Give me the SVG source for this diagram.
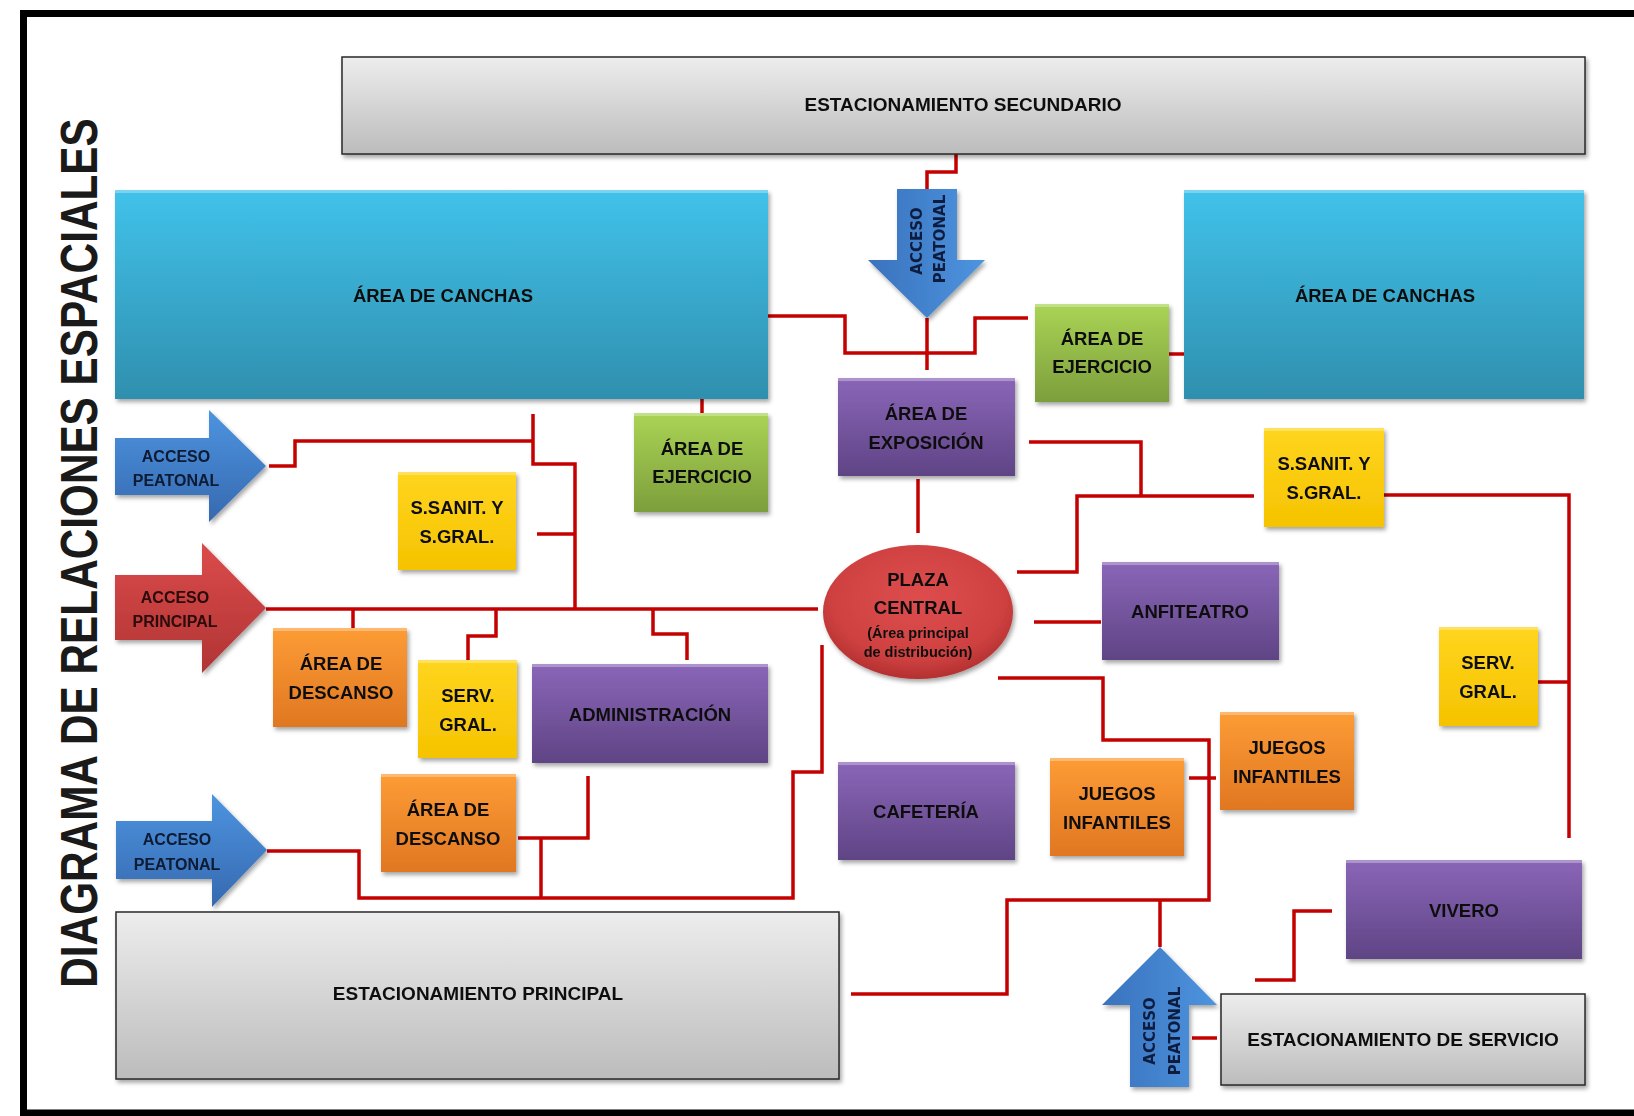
<svg xmlns="http://www.w3.org/2000/svg" width="1634" height="1116" viewBox="0 0 1634 1116">
<defs>
<linearGradient id="gGray" x1="0" y1="0" x2="0" y2="1"><stop offset="0" stop-color="#ededed"/><stop offset="1" stop-color="#bcbcbc"/></linearGradient>
<linearGradient id="gCyan" x1="0" y1="0" x2="0" y2="1"><stop offset="0" stop-color="#41c2ea"/><stop offset="1" stop-color="#2f8fae"/></linearGradient>
<linearGradient id="gGreen" x1="0" y1="0" x2="0" y2="1"><stop offset="0" stop-color="#aad455"/><stop offset="1" stop-color="#7d9e3c"/></linearGradient>
<linearGradient id="gPurple" x1="0" y1="0" x2="0" y2="1"><stop offset="0" stop-color="#8a66b8"/><stop offset="1" stop-color="#5f4485"/></linearGradient>
<linearGradient id="gYellow" x1="0" y1="0" x2="0" y2="1"><stop offset="0" stop-color="#ffd51e"/><stop offset="1" stop-color="#f5c300"/></linearGradient>
<linearGradient id="gOrange" x1="0" y1="0" x2="0" y2="1"><stop offset="0" stop-color="#fd9c35"/><stop offset="1" stop-color="#e07722"/></linearGradient>
<linearGradient id="gBlue" x1="0" y1="0" x2="0" y2="1"><stop offset="0" stop-color="#4d94df"/><stop offset="1" stop-color="#3669b0"/></linearGradient>
<linearGradient id="gBlueV" x1="0" y1="0" x2="1" y2="0"><stop offset="0" stop-color="#3a72bd"/><stop offset="1" stop-color="#4d94df"/></linearGradient>
<linearGradient id="gRedA" x1="0" y1="0" x2="0" y2="1"><stop offset="0" stop-color="#dc4b4b"/><stop offset="1" stop-color="#b03434"/></linearGradient>
<radialGradient id="gPlaza" cx="0.5" cy="0.4" r="0.6"><stop offset="0" stop-color="#de4d4d"/><stop offset="0.75" stop-color="#cf4141"/><stop offset="1" stop-color="#b43030"/></radialGradient>
<filter id="sh" x="-10%" y="-10%" width="125%" height="130%"><feDropShadow dx="2" dy="3" stdDeviation="2" flood-color="#000" flood-opacity="0.35"/></filter>
</defs>
<style>
.lbl{font-family:"Liberation Sans",Arial,sans-serif;font-weight:bold;font-size:18.5px;fill:#111;text-anchor:middle}
.big{font-size:19px}
.arr{font-family:"Liberation Sans",Arial,sans-serif;font-weight:bold;font-size:16px;text-anchor:middle}
.vt{font-family:"DejaVu Sans",Verdana,sans-serif;font-weight:bold;font-size:15px;fill:#0f1f40;text-anchor:middle}
.sm{font-size:14.5px}
.gray{fill:url(#gGray);stroke:#2a2a2a;stroke-width:1.5}
.cyan{fill:url(#gCyan)}
.green{fill:url(#gGreen)}
.purple{fill:url(#gPurple)}
.yellow{fill:url(#gYellow)}
.orange{fill:url(#gOrange)}
.hl{fill:#fff;fill-opacity:0.3}
.node{filter:url(#sh)}
.conn{fill:none;stroke:#c40000;stroke-width:3.5;stroke-linejoin:miter;stroke-linecap:butt}
.frame{fill:none;stroke:#000;stroke-width:7}
.title{font-family:"Liberation Sans",Arial,sans-serif;font-weight:bold;font-size:42.3px;fill:#1a1a1a;text-anchor:middle}
</style>
<rect width="1634" height="1116" fill="#fff"/>
<path class="frame" d="M1634 13.5 H23.5 V1113 H1634"/>
<text class="title" transform="translate(97,553) rotate(-90) scale(1,1.22)">DIAGRAMA DE RELACIONES ESPACIALES</text>

<g id="connectors">
<polyline class="conn" points="956,154 956,172 927,172 927,189"/>
<polyline class="conn" points="927,318 927,370"/>
<polyline class="conn" points="768,316 845,316 845,353 975,353 975,318 1028,318"/>
<polyline class="conn" points="1169,354 1184,354"/>
<polyline class="conn" points="1029,442 1141,442 1141,496"/>
<polyline class="conn" points="1254,496 1077,496 1077,572 1017,572"/>
<polyline class="conn" points="918,479 918,533"/>
<polyline class="conn" points="1384,495 1569,495 1569,838"/>
<polyline class="conn" points="1538,682 1569,682"/>
<polyline class="conn" points="1034,622 1101,622"/>
<polyline class="conn" points="998,678 1103,678 1103,740 1209,740 1209,900 1007,900 1007,994 851,994"/>
<polyline class="conn" points="1160,900 1160,947"/>
<polyline class="conn" points="1189,778 1216,778"/>
<polyline class="conn" points="1255,980 1294,980 1294,911 1332,911"/>
<polyline class="conn" points="1192,1038 1217,1038"/>
<polyline class="conn" points="269,466 295,466 295,441 533,441"/>
<polyline class="conn" points="533,414 533,464 575,464 575,609"/>
<polyline class="conn" points="537,534 575,534"/>
<polyline class="conn" points="266,609 818,609"/>
<polyline class="conn" points="353,609 353,628"/>
<polyline class="conn" points="496,609 496,636 468,636 468,660"/>
<polyline class="conn" points="653,609 653,634 687,634 687,660"/>
<polyline class="conn" points="588,776 588,838 518,838"/>
<polyline class="conn" points="541,838 541,898"/>
<polyline class="conn" points="267,851 359,851 359,898 793,898 793,772 822,772 822,645"/>
<polyline class="conn" points="702,399 702,413"/>
</g>

<g id="est-secundario" class="node"><rect class="gray" x="342" y="57" width="1243" height="97"/><text class="lbl big" x="963" y="111">ESTACIONAMIENTO SECUNDARIO</text></g>

<g id="canchas-izq" class="node"><rect class="cyan" x="115" y="190" width="653" height="209"/><rect class="hl" x="115" y="190" width="653" height="3"/><text class="lbl" x="443" y="302">ÁREA DE CANCHAS</text></g>

<g id="canchas-der" class="node"><rect class="cyan" x="1184" y="190" width="400" height="209"/><rect class="hl" x="1184" y="190" width="400" height="3"/><text class="lbl" x="1385" y="302">ÁREA DE CANCHAS</text></g>

<g id="acceso-peatonal-sup" class="node"><polygon points="897,189 957,189 957,260 985,260 927,318 868,260 897,260" fill="url(#gBlueV)"/>
<text class="vt" transform="translate(922,241) rotate(-90)">ACCESO</text><text class="vt" transform="translate(945,239) rotate(-90)">PEATONAL</text></g>

<g id="ejercicio-der" class="node"><rect class="green" x="1035" y="304" width="134" height="98"/><rect class="hl" x="1035" y="304" width="134" height="3"/><text class="lbl" x="1102" y="345">ÁREA DE</text><text class="lbl" x="1102" y="373">EJERCICIO</text></g>

<g id="exposicion" class="node"><rect class="purple" x="838" y="378" width="177" height="98"/><rect class="hl" x="838" y="378" width="177" height="3"/><text class="lbl" x="926" y="420">ÁREA DE</text><text class="lbl" x="926" y="449">EXPOSICIÓN</text></g>

<g id="ejercicio-izq" class="node"><rect class="green" x="634" y="413" width="134" height="99"/><rect class="hl" x="634" y="413" width="134" height="3"/><text class="lbl" x="702" y="455">ÁREA DE</text><text class="lbl" x="702" y="483">EJERCICIO</text></g>

<g id="acceso-peatonal-1" class="node"><polygon points="115,438 209,438 209,410 266,466 209,522 209,495 115,495" fill="url(#gBlue)"/>
<text class="arr" x="176" y="462" fill="#0d1a33">ACCESO</text><text class="arr" x="176" y="486" fill="#0d1a33">PEATONAL</text></g>

<g id="ssanit-izq" class="node"><rect class="yellow" x="398" y="472" width="118" height="98"/><rect class="hl" x="398" y="472" width="118" height="3"/><text class="lbl" x="457" y="514">S.SANIT. Y</text><text class="lbl" x="457" y="543">S.GRAL.</text></g>

<g id="acceso-principal" class="node"><polygon points="115,575 202,575 202,543 266,608 202,673 202,640 115,640" fill="url(#gRedA)"/>
<text class="arr" x="175" y="603" fill="#2a0808">ACCESO</text><text class="arr" x="175" y="627" fill="#2a0808">PRINCIPAL</text></g>

<g id="descanso-1" class="node"><rect class="orange" x="273" y="628" width="134" height="99"/><rect class="hl" x="273" y="628" width="134" height="3"/><text class="lbl" x="341" y="670">ÁREA DE</text><text class="lbl" x="341" y="699">DESCANSO</text></g>

<g id="servgral-izq" class="node"><rect class="yellow" x="418" y="660" width="99" height="98"/><rect class="hl" x="418" y="660" width="99" height="3"/><text class="lbl" x="468" y="702">SERV.</text><text class="lbl" x="468" y="731">GRAL.</text></g>

<g id="administracion" class="node"><rect class="purple" x="532" y="664" width="236" height="99"/><rect class="hl" x="532" y="664" width="236" height="3"/><text class="lbl" x="650" y="721">ADMINISTRACIÓN</text></g>

<g id="descanso-2" class="node"><rect class="orange" x="381" y="774" width="135" height="98"/><rect class="hl" x="381" y="774" width="135" height="3"/><text class="lbl" x="448" y="816">ÁREA DE</text><text class="lbl" x="448" y="845">DESCANSO</text></g>

<g id="acceso-peatonal-2" class="node"><polygon points="116,821 212,821 212,794 267,850 212,907 212,879 116,879" fill="url(#gBlue)"/>
<text class="arr" x="177" y="845" fill="#0d1a33">ACCESO</text><text class="arr" x="177" y="870" fill="#0d1a33">PEATONAL</text></g>

<g id="est-principal" class="node"><rect class="gray" x="116" y="912" width="723" height="167"/><text class="lbl big" x="478" y="1000">ESTACIONAMIENTO PRINCIPAL</text></g>

<g id="plaza-central" class="node"><ellipse cx="918" cy="612" rx="95" ry="67" fill="url(#gPlaza)"/>
<text class="lbl" x="918" y="586">PLAZA</text><text class="lbl" x="918" y="614">CENTRAL</text><text class="lbl sm" x="918" y="638">(Área principal</text><text class="lbl sm" x="918" y="657">de distribución)</text></g>

<g id="ssanit-der" class="node"><rect class="yellow" x="1264" y="428" width="120" height="99"/><rect class="hl" x="1264" y="428" width="120" height="3"/><text class="lbl" x="1324" y="470">S.SANIT. Y</text><text class="lbl" x="1324" y="499">S.GRAL.</text></g>

<g id="anfiteatro" class="node"><rect class="purple" x="1102" y="562" width="177" height="98"/><rect class="hl" x="1102" y="562" width="177" height="3"/><text class="lbl" x="1190" y="618">ANFITEATRO</text></g>

<g id="servgral-der" class="node"><rect class="yellow" x="1439" y="627" width="99" height="99"/><rect class="hl" x="1439" y="627" width="99" height="3"/><text class="lbl" x="1488" y="669">SERV.</text><text class="lbl" x="1488" y="698">GRAL.</text></g>

<g id="cafeteria" class="node"><rect class="purple" x="838" y="762" width="177" height="98"/><rect class="hl" x="838" y="762" width="177" height="3"/><text class="lbl" x="926" y="818">CAFETERÍA</text></g>

<g id="juegos-1" class="node"><rect class="orange" x="1050" y="758" width="134" height="98"/><rect class="hl" x="1050" y="758" width="134" height="3"/><text class="lbl" x="1117" y="800">JUEGOS</text><text class="lbl" x="1117" y="829">INFANTILES</text></g>

<g id="juegos-2" class="node"><rect class="orange" x="1220" y="712" width="134" height="98"/><rect class="hl" x="1220" y="712" width="134" height="3"/><text class="lbl" x="1287" y="754">JUEGOS</text><text class="lbl" x="1287" y="783">INFANTILES</text></g>

<g id="vivero" class="node"><rect class="purple" x="1346" y="860" width="236" height="99"/><rect class="hl" x="1346" y="860" width="236" height="3"/><text class="lbl" x="1464" y="917">VIVERO</text></g>

<g id="acceso-peatonal-inf" class="node"><polygon points="1130,1087 1189,1087 1189,1005 1217,1005 1160,947 1102,1005 1130,1005" fill="url(#gBlueV)"/>
<text class="vt" transform="translate(1155,1031) rotate(-90)">ACCESO</text><text class="vt" transform="translate(1180,1031) rotate(-90)">PEATONAL</text></g>

<g id="est-servicio" class="node"><rect class="gray" x="1221" y="994" width="364" height="91"/><text class="lbl big" x="1403" y="1046">ESTACIONAMIENTO DE SERVICIO</text></g>
</svg>
